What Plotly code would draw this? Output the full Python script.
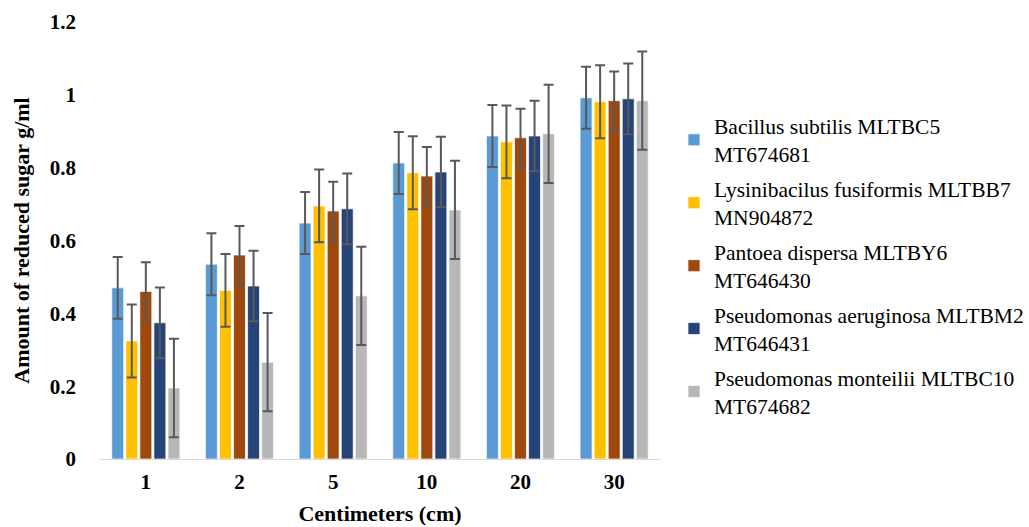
import plotly.graph_objects as go

categories = ["1", "2", "5", "10", "20", "30"]
series_names = [
    "Bacillus subtilis MLTBC5<br>MT674681",
    "Lysinibacilus fusiformis MLTBB7<br>MN904872",
    "Pantoea dispersa MLTBY6<br>MT646430",
    "Pseudomonas aeruginosa MLTBM2<br>MT646431",
    "Pseudomonas monteilii MLTBC10<br>MT674682",
]
bacillus = [0.47, 0.535, 0.648, 0.813, 0.887, 0.992]
lysinibacilus = [0.324, 0.463, 0.695, 0.786, 0.871, 0.981]
pantoea = [0.46, 0.56, 0.681, 0.777, 0.882, 0.984]
aeruginosa = [0.374, 0.475, 0.687, 0.788, 0.887, 0.989]
monteilii = [0.195, 0.266, 0.448, 0.684, 0.893, 0.984]
errors = [0.085, 0.10, 0.08, 0.097, 0.135]
colors = ["#5b9bd5", "#ffc000", "#9e480e", "#264478", "#b7b7b7"]

values = [bacillus, lysinibacilus, pantoea, aeruginosa, monteilii]

fig = go.Figure()
for i, (name, vals, err, col) in enumerate(zip(series_names, values, errors, colors)):
    fig.add_trace(go.Bar(
        x=categories, y=vals, name=name, legendgroup=f"g{i}",
        marker=dict(color=col, line=dict(color="rgba(255,255,255,0.7)", width=1)),
        error_y=dict(type="constant", value=err, color="#595959", thickness=2, width=5),
    ))

font_family = "Liberation Serif"
fig.update_layout(
    barmode="group",
    bargap=0.25,
    bargroupgap=0.15,
    width=1029, height=527,
    margin=dict(l=99, r=368, t=22, b=68, autoexpand=False),
    paper_bgcolor="white", plot_bgcolor="white",
    font=dict(family=font_family, color="#000000"),
    xaxis=dict(
        type="category", automargin=False,
        showline=True, linecolor="#d9d9d9", linewidth=1,
        tickfont=dict(size=21, family=font_family, weight="bold"),
        ticks="", showgrid=False, ticklabelstandoff=4,
        title=dict(text="Centimeters (cm)", font=dict(size=22, family=font_family, weight="bold"), standoff=12),
    ),
    yaxis=dict(
        range=[0, 1.2], showgrid=False, zeroline=False, automargin=False,
        showline=False, ticks="", ticklabelstandoff=22,
        tickvals=[0, 0.2, 0.4, 0.6, 0.8, 1, 1.2],
        ticktext=["0", "0.2", "0.4", "0.6", "0.8", "1", "1.2"],
        tickfont=dict(size=21, family=font_family, weight="bold"),
        title=dict(text="Amount of reduced sugar g/ml", font=dict(size=22, family=font_family, weight="bold"), standoff=14),
    ),
    legend=dict(
        xref="container", yref="container",
        x=0.655, y=0.80, xanchor="left", yanchor="top",
        font=dict(size=21.5, family=font_family),
        tracegroupgap=4, itemwidth=30, maxheight=450,
    ),
    showlegend=True,
)

fig.write_html("out.html")
